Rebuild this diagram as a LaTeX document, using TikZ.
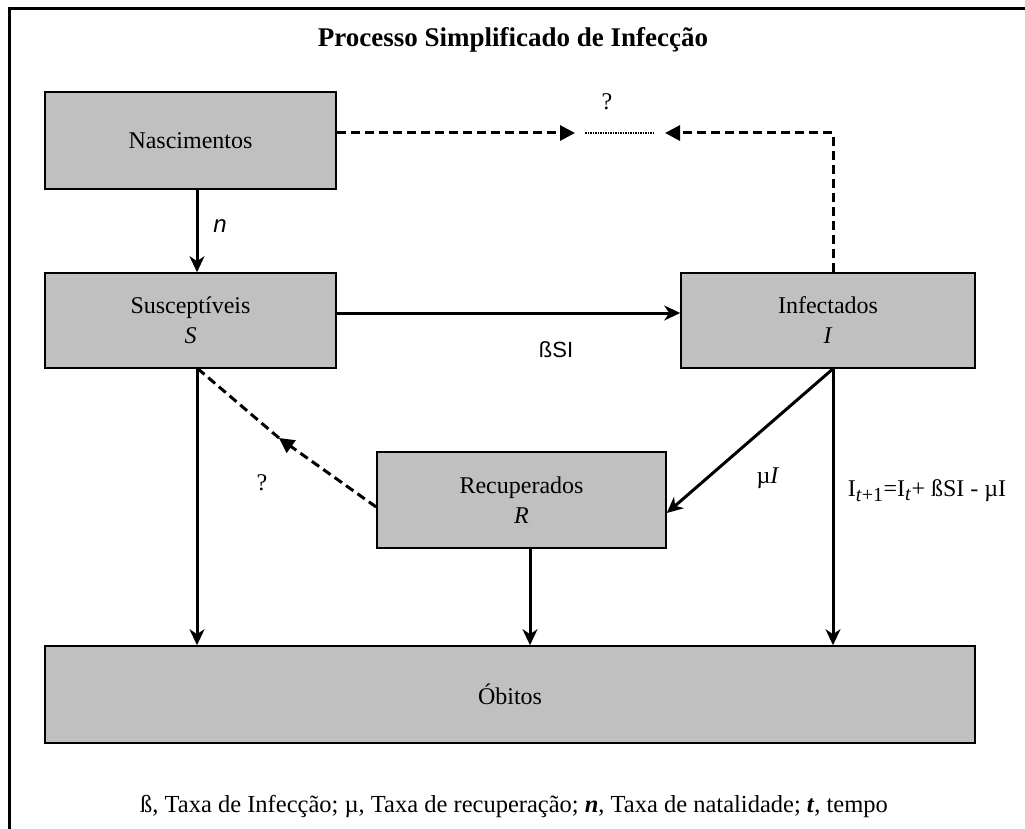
\documentclass[tikz,border=0pt]{standalone}
\usepackage{fontspec}
\setmainfont{Liberation Serif}
\newfontfamily\arialfont{Liberation Sans}
\usetikzlibrary{arrows.meta,calc}
\definecolor{boxgray}{RGB}{192,192,192}
\begin{document}
\begin{tikzpicture}[x=1pt,y=-1pt,
  box/.style={draw=black,line width=1.6pt,fill=boxgray,inner sep=0pt,align=center,
    font=\fontsize{24}{30}\selectfont},
  flow/.style={line width=3pt,-{Stealth[length=16pt,width=15pt,inset=5pt]}},
  dashline/.style={line width=3pt,dash pattern=on 9pt off 5pt},
  dflow/.style={dashline,-{Triangle[length=15pt,width=15pt]}},
  dotline/.style={line width=2.6pt,dash pattern=on 1.5pt off 1pt},
  lbl/.style={inner sep=0pt,font=\fontsize{24}{28}\selectfont}]
\useasboundingbox (0,0) rectangle (1025,829);
% frame
\draw[line width=3pt] (9,829) -- (9,9) -- (1025,9);
% title
\node[lbl,font=\fontsize{27}{30}\selectfont\bfseries] (title) at (513,40) {Processo Simplificado de Infecção};
% compartments
\node[box,minimum width=291pt,minimum height=97pt] (nasc) at (190.5,140.5) {Nascimentos};
\node[box,minimum width=291pt,minimum height=95pt] (susc) at (190.5,320.5) {Susceptíveis\\\textit{S}};
\node[box,minimum width=294pt,minimum height=95pt] (inf) at (828,320.5) {Infectados\\\textit{I}};
\node[box,minimum width=289pt,minimum height=96pt] (rec) at (521.5,500) {Recuperados\\\textit{R}};
\node[box,minimum width=930pt,minimum height=97pt] (obi) at (510,694.5) {Óbitos};
% guide coordinates
\coordinate (xa) at (197,0);
\coordinate (xc) at (530,0);
\coordinate (xi) at (833,0);
\coordinate (ys) at (0,313);
\coordinate (ymu) at (0,513);
\coordinate (yq) at (0,507);
\coordinate (gapL) at (575,133);
\coordinate (gapR) at (665,133);
\coordinate (dotL) at (585,133);
\coordinate (dotR) at (653,133);
\coordinate (qtop) at (197,368);
\coordinate (qtip) at (279,438);
% solid flows
\draw[flow] (nasc.south -| xa) -- (susc.north -| xa);
\draw[flow] (susc.east |- ys) -- (inf.west |- ys);
\draw[flow] (susc.south -| xa) -- (obi.north -| xa);
\draw[flow] (rec.south -| xc) -- (obi.north -| xc);
\draw[flow] (inf.south -| xi) -- (obi.north -| xi);
\draw[flow] (inf.south -| xi) -- (rec.east |- ymu);
% uncertain flows
\draw[dflow] (nasc.east |- gapL) -- (gapL);
\draw[dflow] (inf.north -| xi) |- (gapR);
\draw[dotline] (dotL) -- (dotR);
\draw[dflow] (rec.west |- yq) -- (qtip);
\draw[dashline] (qtip) -- (qtop);
% labels
\node[lbl] (q1) at (607,102) {?};
\node[lbl] (q2) at (262,483) {?};
\node[lbl,font=\fontsize{24}{28}\arialfont\itshape] (nl) at (220,226) {n};
\node[lbl,font=\fontsize{22}{26}\arialfont] (bsi) at (556,350) {ßSI};
\node[lbl] (mul) at (768,478) {µ\textit{I}};
\node[lbl] (eq) at (927,491) {I\textsubscript{\fontsize{20}{20}\selectfont\textit{t}+1}=I\textsubscript{\fontsize{20}{20}\selectfont\textit{t}}+ ßSI - µI};
\node[lbl,font=\fontsize{24.5}{28}\selectfont] (cap) at (514,806) {ß, Taxa de Infecção; µ, Taxa de recuperação; \textbf{\textit{n}}, Taxa de natalidade; \textbf{\textit{t}}, tempo};
\end{tikzpicture}
\end{document}
